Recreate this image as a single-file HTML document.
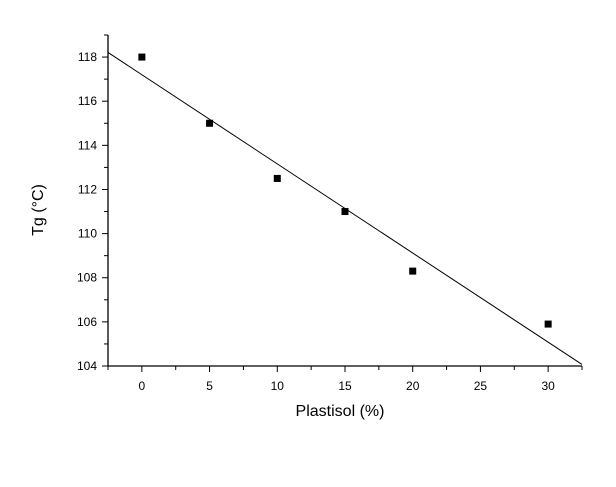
<!DOCTYPE html>
<html><head><meta charset="utf-8"><style>
body{margin:0;background:#fff;}
text{font-family:"Liberation Sans",sans-serif;}
</style></head><body>
<svg id="chart" width="616" height="482" xmlns="http://www.w3.org/2000/svg"></svg>
<script>
const xVals=[0,5,10,15,20,30];
const yVals=[118,115,112.5,111,108.3,105.9];
const fitIntercept=117.2;
const fitSlope=-0.404;
const xTicks=[0,5,10,15,20,25,30];
const yTicks=[104,106,108,110,112,114,116,118];
const X0=108,X1=582,Y0=366,Y1=35;
const xmin=-2.5,xmax=32.5,ymin=104,ymax=119;
const sx=v=>X0+(v-xmin)/(xmax-xmin)*(X1-X0);
const sy=v=>Y0-(v-ymin)/(ymax-ymin)*(Y0-Y1);
const svg=document.getElementById('chart');
const NS='http://www.w3.org/2000/svg';
function mk(tag,attrs,name){const e=document.createElementNS(NS,tag);for(const k in attrs)e.setAttribute(k,attrs[k]);


svg.appendChild(e);return e;}
mk('line',{x1:X0,y1:Y0,x2:X0,y2:Y1,stroke:'#000','stroke-width':1.3},'y-axis');
mk('line',{x1:X0,y1:Y0,x2:X1,y2:Y0,stroke:'#000','stroke-width':1.3},'x-axis');
for(let v=-2.5;v<=32.5+1e-6;v+=2.5){const major=xTicks.includes(v);
mk('line',{x1:sx(v),y1:Y0,x2:sx(v),y2:Y0+(major?6:4),stroke:'#000'},'x-tick');}
xTicks.forEach(v=>{const t=mk('text',{x:sx(v),y:Y0+24,'text-anchor':'middle','font-size':12},'x-tick-label');t.textContent=v;});
for(let v=104;v<=119;v+=1){const major=yTicks.includes(v);
mk('line',{x1:X0,y1:sy(v),x2:X0-(major?6:4),y2:sy(v),stroke:'#000'},'y-tick');}
yTicks.forEach(v=>{const t=mk('text',{x:X0-11,y:sy(v)+4,'text-anchor':'end','font-size':12},'y-tick-label');t.textContent=v;});
mk('line',{x1:sx(xmin),y1:sy(fitIntercept+fitSlope*xmin),x2:sx(xmax),y2:sy(fitIntercept+fitSlope*xmax),stroke:'#000','stroke-width':1},'fit-line');
xVals.forEach((x,i)=>{mk('rect',{x:sx(x)-3.5,y:sy(yVals[i])-3.5,width:7,height:7,fill:'#000'},'data-point');});
const xt=mk('text',{x:340,y:416,'text-anchor':'middle','font-size':16},'x-axis-title');xt.textContent='Plastisol (%)';
const yt=mk('text',{x:0,y:0,'text-anchor':'middle','font-size':16,transform:'translate(43,210) rotate(-90)'},'y-axis-title');yt.textContent='Tg (°C)';
</script>
</body></html>
